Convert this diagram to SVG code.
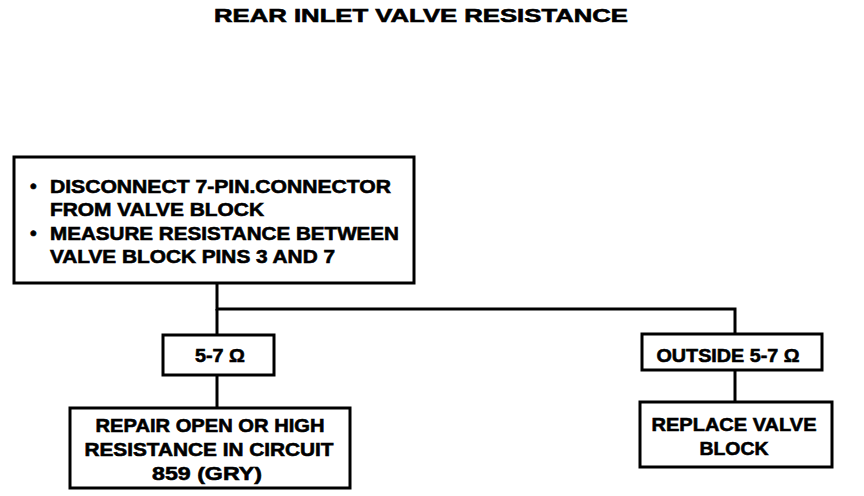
<svg xmlns="http://www.w3.org/2000/svg" width="864" height="496" viewBox="0 0 864 496">
<style>
.box{fill:#fff;stroke:#000;stroke-width:3}
.t{font-family:"Liberation Sans",Arial,sans-serif;font-weight:bold;font-size:19px;fill:#000;stroke:#000;stroke-width:0.6}
.c{text-anchor:middle}
.ln{fill:none;stroke:#000;stroke-width:3}
</style>
<rect width="864" height="496" fill="#fff"/>
<text class="t c" x="421" y="22" font-size="22" stroke-width="0.9" textLength="414" lengthAdjust="spacingAndGlyphs">REAR INLET VALVE RESISTANCE</text>
<g id="connectors">
<polyline class="ln" points="217,283 217,309 735,309 735,334"/>
<line class="ln" x1="217" y1="309" x2="217" y2="335"/>
<line class="ln" x1="217" y1="375" x2="217" y2="408"/>
<line class="ln" x1="735" y1="370" x2="735" y2="402"/>
</g>
<g id="measure">
<rect class="box" x="14" y="157" width="400" height="126"/>
<text class="t" x="30" y="192">•</text>
<text class="t" x="50" y="193" textLength="341" lengthAdjust="spacingAndGlyphs">DISCONNECT 7-PIN.CONNECTOR</text>
<text class="t" x="50" y="216" textLength="214" lengthAdjust="spacingAndGlyphs">FROM VALVE BLOCK</text>
<text class="t" x="30" y="239">•</text>
<text class="t" x="50" y="240" textLength="349" lengthAdjust="spacingAndGlyphs">MEASURE RESISTANCE BETWEEN</text>
<text class="t" x="50" y="263" textLength="285" lengthAdjust="spacingAndGlyphs">VALVE BLOCK PINS 3 AND 7</text>
</g>
<g id="in-range">
<rect class="box" x="163" y="335" width="111" height="40"/>
<text class="t c" x="220" y="362" textLength="50" lengthAdjust="spacingAndGlyphs">5-7 Ω</text>
</g>
<g id="out-range">
<rect class="box" x="642" y="334" width="180" height="36"/>
<text class="t c" x="728" y="362" textLength="143" lengthAdjust="spacingAndGlyphs">OUTSIDE 5-7 Ω</text>
</g>
<g id="repair">
<rect class="box" x="70" y="408" width="280" height="80"/>
<text class="t c" x="210" y="432" textLength="229" lengthAdjust="spacingAndGlyphs">REPAIR OPEN OR HIGH</text>
<text class="t c" x="209" y="456" textLength="249" lengthAdjust="spacingAndGlyphs">RESISTANCE IN CIRCUIT</text>
<text class="t c" x="207" y="480" textLength="110" lengthAdjust="spacingAndGlyphs">859 (GRY)</text>
</g>
<g id="replace">
<rect class="box" x="640" y="402" width="192" height="65"/>
<text class="t c" x="734" y="431" textLength="165" lengthAdjust="spacingAndGlyphs">REPLACE VALVE</text>
<text class="t c" x="734" y="455" textLength="69" lengthAdjust="spacingAndGlyphs">BLOCK</text>
</g>
</svg>
